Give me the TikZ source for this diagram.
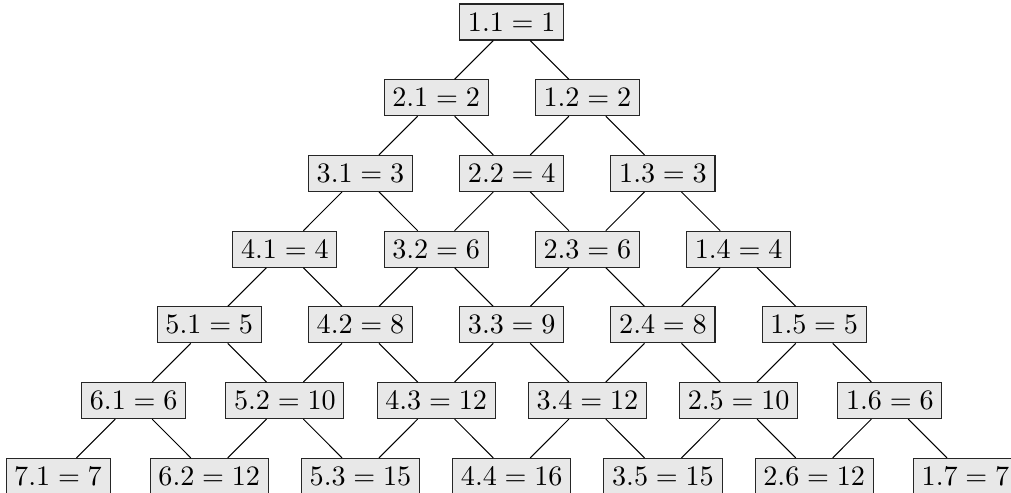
\documentclass[tikz,border=0pt]{standalone}
\usetikzlibrary{calc}
\tikzset{
  cell/.style={draw=black!85, fill=black!9, line width=0.4pt, inner xsep=3.2pt, inner ysep=0pt,
    minimum height=14pt, font=\fontsize{10.5}{13}\selectfont},
  link/.style={draw=black, line width=0.4pt}
}
\begin{document}
\begin{tikzpicture}[x=0.389pt,y=-0.389pt]
\useasboundingbox (0,0) rectangle (1011,492);
\def\dx{75.62}
\def\dy{75.72}
\foreach \r in {1,...,7}{
  \foreach \j in {1,...,\r}{
    \pgfmathtruncatemacro{\i}{\r-\j+1}
    \pgfmathtruncatemacro{\v}{\i*\j}
    \node[cell] (n-\i-\j) at ({511.75+(\j-\i)*\dx},{22+(\r-1)*\dy}) {$\i.\j = \v$};
  }
}
\foreach \r in {1,...,6}{
  \foreach \j in {1,...,\r}{
    \pgfmathtruncatemacro{\i}{\r-\j+1}
    \pgfmathtruncatemacro{\ii}{\i+1}
    \pgfmathtruncatemacro{\jj}{\j+1}
    \draw[link] (n-\i-\j) -- (n-\ii-\j);
    \draw[link] (n-\i-\j) -- (n-\i-\jj);
  }
}
\end{tikzpicture}
\end{document}
